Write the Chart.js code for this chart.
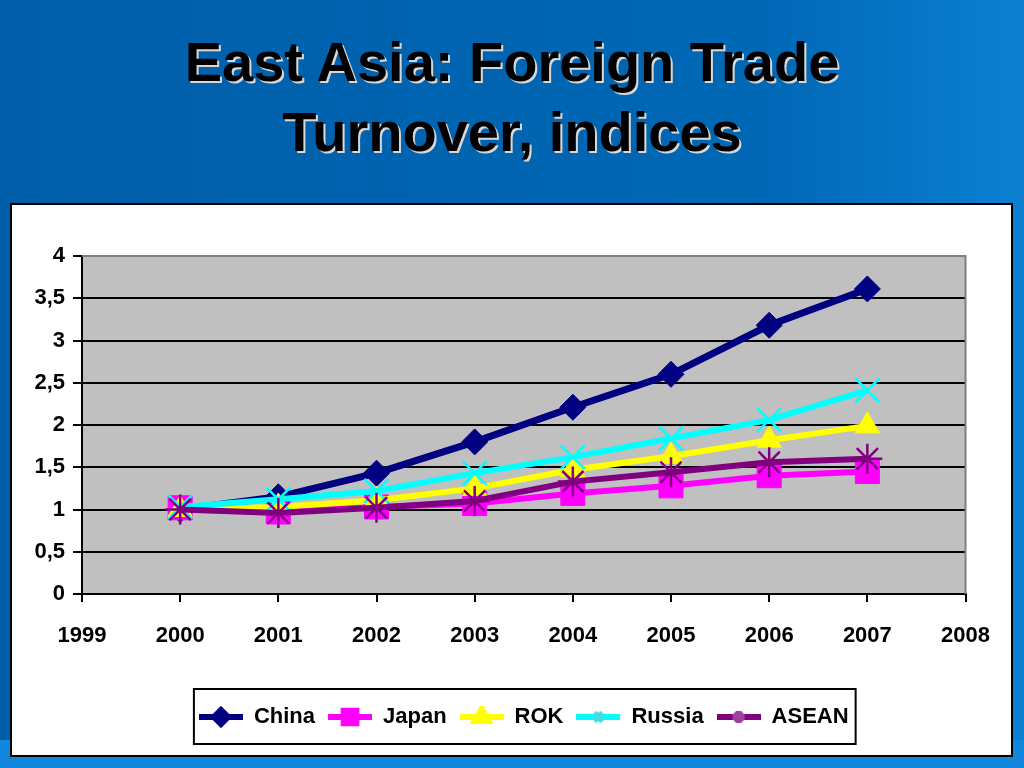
<!DOCTYPE html>
<html lang="en">
<head>
    <meta charset="UTF-8">
    <title>East Asia: Foreign Trade Turnover, indices</title>
    <script src="https://cdn.jsdelivr.net/npm/chart.js"></script>
    <style>
        body {
            margin: 0;
            width: 1024px;
            height: 768px;
            overflow: hidden;
            position: relative;
            background: linear-gradient(to right, #005ea8 0%, #0068b6 75%, #0c80d2 100%);
            font-family: "Liberation Sans", Arial, sans-serif;
        }
        .band {
            position: absolute;
            left: 0; top: 740px;
            width: 1024px; height: 28px;
            background: #1188de;
        }
        h1 {
            position: absolute;
            left: 0; top: 27px;
            width: 1024px;
            margin: 0;
            text-align: center;
            font-size: 56px;
            line-height: 70px;
            font-weight: bold;
            color: #000;
            text-shadow: 2px 2px 0 #d8d8d8;
        }
        .panel {
            position: absolute;
            left: 10px; top: 203px;
            width: 1003px; height: 554px;
            box-sizing: border-box;
            background: #fff;
            border: 2px solid #000;
        }
        canvas { position: absolute; left: 0; top: 0; }
    </style>
</head>
<body>
    <div class="band"></div>
    <h1>East Asia: Foreign Trade<br>Turnover, indices</h1>
    <div class="panel">
        <canvas id="tradeChart" width="999" height="550"></canvas>
    </div>

    <script>
        // datos
        const years = [2000, 2001, 2002, 2003, 2004, 2005, 2006, 2007];
        const china  = [1.00, 1.15, 1.43, 1.80, 2.21, 2.60, 3.18, 3.61];
        const japan  = [1.02, 0.97, 1.03, 1.07, 1.19, 1.28, 1.40, 1.45];
        const rok    = [1.00, 1.03, 1.11, 1.25, 1.47, 1.63, 1.82, 1.99];
        const russia = [1.03, 1.12, 1.22, 1.43, 1.62, 1.84, 2.06, 2.41];
        const asean  = [1.00, 0.96, 1.02, 1.10, 1.33, 1.44, 1.56, 1.60];
        const seriesNames = ['China', 'Japan', 'ROK', 'Russia', 'ASEAN'];

        const fuente = '"Liberation Sans", Arial, sans-serif';

        function toPoints(values) {
            return values.map((v, i) => ({ x: years[i], y: v }));
        }

        function serie(label, values, color, style, radius, width, order) {
            const cross = style === 'crossRot' || style === 'star';
            return {
                label: label,
                data: toPoints(values),
                borderColor: color,
                backgroundColor: color,
                borderWidth: width,
                tension: 0,
                pointStyle: style,
                pointRadius: radius,
                pointHoverRadius: radius,
                pointBackgroundColor: color,
                pointBorderColor: color,
                pointBorderWidth: cross ? 2.5 : 1,
                order: order
            };
        }

        const datasets = [
            serie(seriesNames[0], china,  '#000080', 'rectRot',  13, 7, 5),
            serie(seriesNames[1], japan,  '#ff00ff', 'rect',     17, 6, 4),
            serie(seriesNames[2], rok,    '#ffff00', 'triangle', 14, 6, 3),
            serie(seriesNames[3], russia, '#00ffff', 'crossRot', 17, 6, 2),
            serie(seriesNames[4], asean,  '#800080', 'star',     15, 6, 1)
        ];

        // icono de leyenda: linea gruesa con el marcador en el centro
        function legendIcon(ds) {
            const c = document.createElement('canvas');
            c.width = 44;
            c.height = 22;
            const g = c.getContext('2d');
            g.strokeStyle = ds.borderColor;
            g.lineWidth = 6;
            g.beginPath();
            g.moveTo(0, 11);
            g.lineTo(44, 11);
            g.stroke();
            const small = { rectRot: 7, rect: 9, triangle: 8, crossRot: 6, star: 6 };
            const cross = ds.pointStyle === 'crossRot' || ds.pointStyle === 'star';
            // las cruces se ven un poco mas claras sobre la linea
            const mark = ds.pointStyle === 'crossRot' ? '#40e0e0' : (ds.pointStyle === 'star' ? '#a040a0' : ds.borderColor);
            g.fillStyle = mark;
            g.strokeStyle = mark;
            Chart.helpers.drawPoint(g, {
                pointStyle: ds.pointStyle,
                radius: small[ds.pointStyle],
                rotation: 0,
                borderWidth: cross ? 1.5 : 1
            }, 22, 11);
            return c;
        }

        const plotBackground = {
            id: 'plotBackground',
            beforeDraw(chart) {
                const a = chart.chartArea;
                const ctx = chart.ctx;
                ctx.save();
                ctx.fillStyle = '#c0c0c0';
                ctx.fillRect(a.left, a.top, a.right - a.left, a.bottom - a.top);
                ctx.restore();
            },
            afterDatasetsDraw(chart) {
                const a = chart.chartArea;
                const ctx = chart.ctx;
                ctx.save();
                ctx.strokeStyle = '#808080';
                ctx.lineWidth = 2;
                ctx.beginPath();
                ctx.moveTo(a.left, a.top);
                ctx.lineTo(a.right, a.top);
                ctx.lineTo(a.right, a.bottom);
                ctx.stroke();
                ctx.restore();
            }
        };

        const legendFrame = {
            id: 'legendFrame',
            afterDraw(chart) {
                const boxes = chart.legend.legendHitBoxes;
                if (!boxes || !boxes.length) return;
                let x0 = Infinity, x1 = -Infinity, y0 = Infinity, y1 = -Infinity;
                boxes.forEach(b => {
                    x0 = Math.min(x0, b.left);
                    x1 = Math.max(x1, b.left + b.width);
                    y0 = Math.min(y0, b.top);
                    y1 = Math.max(y1, b.top + b.height);
                });
                const ctx = chart.ctx;
                ctx.save();
                ctx.strokeStyle = '#000';
                ctx.lineWidth = 2;
                ctx.strokeRect(x0 - 5, y0 - 17, x1 - x0 + 12, y1 - y0 + 33);
                ctx.restore();
            }
        };

        const ctx = document.getElementById('tradeChart').getContext('2d');
        new Chart(ctx, {
            type: 'line',
            data: { datasets: datasets },
            plugins: [plotBackground, legendFrame],
            options: {
                responsive: false,
                animation: false,
                layout: {
                    padding: { left: 0, right: 44, top: 51, bottom: 17 }
                },
                plugins: {
                    title: { display: false },
                    tooltip: { enabled: false },
                    legend: {
                        position: 'bottom',
                        fullSize: false,
                        labels: {
                            usePointStyle: true,
                            pointStyleWidth: 44,
                            padding: 13,
                            color: '#000',
                            font: { family: fuente, size: 22, weight: 'bold' },
                            generateLabels(chart) {
                                return chart.data.datasets.map((ds, i) => ({
                                    text: ds.label,
                                    pointStyle: legendIcon(ds),
                                    fillStyle: ds.borderColor,
                                    strokeStyle: ds.borderColor,
                                    lineWidth: 0,
                                    fontColor: '#000',
                                    hidden: false,
                                    datasetIndex: i
                                }));
                            }
                        }
                    }
                },
                scales: {
                    x: {
                        type: 'linear',
                        min: 1999,
                        max: 2008,
                        afterFit(scale) { scale.height = 99; },
                        ticks: {
                            stepSize: 1,
                            padding: 21,
                            color: '#000',
                            font: { family: fuente, size: 22, weight: 'bold' },
                            callback: v => String(v)
                        },
                        grid: {
                            drawOnChartArea: false,
                            color: '#000',
                            lineWidth: 2,
                            tickLength: 8
                        },
                        border: { display: true, color: '#000', width: 2 }
                    },
                    y: {
                        min: 0,
                        max: 4,
                        afterFit(scale) { scale.width = 70; },
                        ticks: {
                            stepSize: 0.5,
                            padding: 8,
                            color: '#000',
                            font: { family: fuente, size: 22, weight: 'bold' },
                            callback: v => String(v).replace('.', ',')
                        },
                        grid: {
                            color: c => (c.tick && c.tick.value === 4) ? '#808080' : '#000',
                            tickColor: '#000',
                            lineWidth: 2,
                            tickLength: 9
                        },
                        border: { display: true, color: '#000', width: 2 }
                    }
                }
            }
        });
    </script>
</body>
</html>
